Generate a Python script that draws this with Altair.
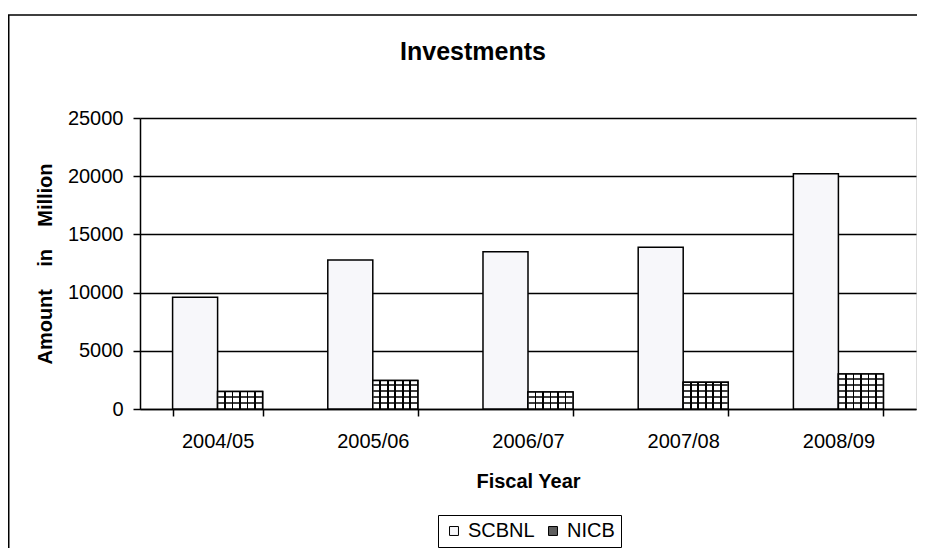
import altair as alt
import pandas as pd

# ---- data ----
years = ["2004/05", "2005/06", "2006/07", "2007/08", "2008/09"]
series_names = ["SCBNL", "NICB"]
scbnl = [9600, 12800, 13500, 13900, 20200]
nicb = [1500, 2450, 1450, 2300, 3000]
y_ticks = [0, 5000, 10000, 15000, 20000, 25000]
chart_title = "Investments"

FONT = "Liberation Sans"
PLOT_W, PLOT_H = 776, 291
Y_MAX = 25000

rows = []
for i, yr in enumerate(years):
    rows.append({"year": yr, "series": "SCBNL", "value": scbnl[i]})
    rows.append({"year": yr, "series": "NICB", "value": nicb[i]})
df = pd.DataFrame(rows)

# horizontal hatch lines of the NICB grid pattern (derived from the NICB values)
cell = 6.0 * Y_MAX / PLOT_H
grid_rows = []
for yr, v in zip(years, nicb):
    k = 1
    while k * cell < v - 0.3 * cell:
        grid_rows.append({"year": yr, "series": "NICB", "value": k * cell})
        k += 1
grid_df = pd.DataFrame(grid_rows)

# vertical hatch lines via a hard-stop gradient
stops = [alt.GradientStop(color="white", offset=0)]
for k in range(1, 6):
    c = k / 6
    stops += [
        alt.GradientStop(color="white", offset=c - 0.018),
        alt.GradientStop(color="black", offset=c - 0.018),
        alt.GradientStop(color="black", offset=c + 0.018),
        alt.GradientStop(color="white", offset=c + 0.018),
    ]
stops.append(alt.GradientStop(color="white", offset=1))
hatch = alt.Gradient(gradient="linear", stops=stops, x1=0, x2=1, y1=0, y2=0)

x_enc = alt.X(
    "year:N",
    sort=years,
    scale=alt.Scale(domain=years, paddingInner=0.42, paddingOuter=0.21),
    axis=alt.Axis(
        title="Fiscal Year",
        labelAngle=0,
        labelFontSize=20,
        labelFont=FONT,
        labelColor="black",
        labelPadding=15,
        tickBand="extent",
        tickSize=7,
        tickColor="black",
        tickWidth=1.5,
        domainColor="black",
        domainWidth=1.5,
        titleFont=FONT,
        titleFontSize=20,
        titleFontWeight="bold",
        titleColor="black",
        titlePadding=20,
        grid=False,
    ),
)
xoff_enc = alt.XOffset(
    "series:N", scale=alt.Scale(domain=series_names, paddingInner=0, paddingOuter=0)
)
sp = "\u00a0" * 4
y_enc = alt.Y(
    "value:Q",
    stack=None,
    scale=alt.Scale(domain=[0, Y_MAX], nice=False),
    axis=alt.Axis(
        title=f"Amount{sp}in{sp}Million",
        values=y_ticks,
        format="d",
        labelFontSize=20,
        labelFont=FONT,
        labelColor="black",
        labelPadding=10,
        tickSize=7,
        tickColor="black",
        tickWidth=1.5,
        domainColor="black",
        domainWidth=1.5,
        grid=True,
        gridColor="black",
        gridWidth=1.5,
        titleFont=FONT,
        titleFontSize=20,
        titleFontWeight="bold",
        titleColor="black",
        titlePadding=12,
    ),
)

bars = (
    alt.Chart(df)
    .mark_bar(stroke="black", strokeWidth=1.5, opacity=1)
    .encode(
        x=x_enc,
        xOffset=xoff_enc,
        y=y_enc,
        color=alt.Color(
            "series:N",
            scale=alt.Scale(domain=series_names, range=["#f7f7fa", "#5e5e5e"]),
            legend=alt.Legend(
                title=None,
                orient="none",
                legendX=298,
                legendY=397,
                direction="horizontal",
                padding=6,
                strokeColor="black",
                fillColor="white",
                labelFont=FONT,
                labelFontSize=20,
                labelColor="black",
                labelOffset=4,
                columnPadding=8,
                symbolType="square",
                symbolSize=80,
                symbolStrokeColor="black",
                symbolStrokeWidth=1,
                symbolOpacity=1,
            ),
        ),
    )
)

nicb_pattern = (
    alt.Chart(df)
    .transform_filter(alt.datum.series == "NICB")
    .mark_bar(fill=hatch, stroke="black", strokeWidth=1.5)
    .encode(x=x_enc, xOffset=xoff_enc, y=y_enc)
)

nicb_rows = (
    alt.Chart(grid_df)
    .mark_tick(color="black", thickness=1.4, size=44, orient="horizontal", opacity=1)
    .encode(x=x_enc, xOffset=xoff_enc, y=y_enc)
)

frame = (
    alt.Chart(pd.DataFrame({"a": [0]}))
    .mark_rect(fillOpacity=0, stroke="black", strokeWidth=1.5)
    .encode(
        x=alt.value(-131.25),
        x2=alt.value(1200),
        y=alt.value(-103),
        y2=alt.value(1200),
    )
)

title_text = (
    alt.Chart(pd.DataFrame({"t": [chart_title]}))
    .mark_text(
        font=FONT,
        fontSize=25,
        fontWeight="bold",
        color="black",
        align="center",
        baseline="alphabetic",
    )
    .encode(text="t:N", x=alt.value(333), y=alt.value(-58))
)

chart = (
    alt.layer(frame, bars, nicb_pattern, nicb_rows, title_text)
    .properties(
        width=PLOT_W,
        height=PLOT_H,
        autosize=alt.AutoSizeParams(type="none"),
        padding={"left": 132, "top": 110, "right": 1, "bottom": 139},
    )
    .configure_view(stroke="black", strokeWidth=1.5)
    .configure(background="white")
)

chart.save("out.html", embed_options={"renderer": "svg", "actions": False})
